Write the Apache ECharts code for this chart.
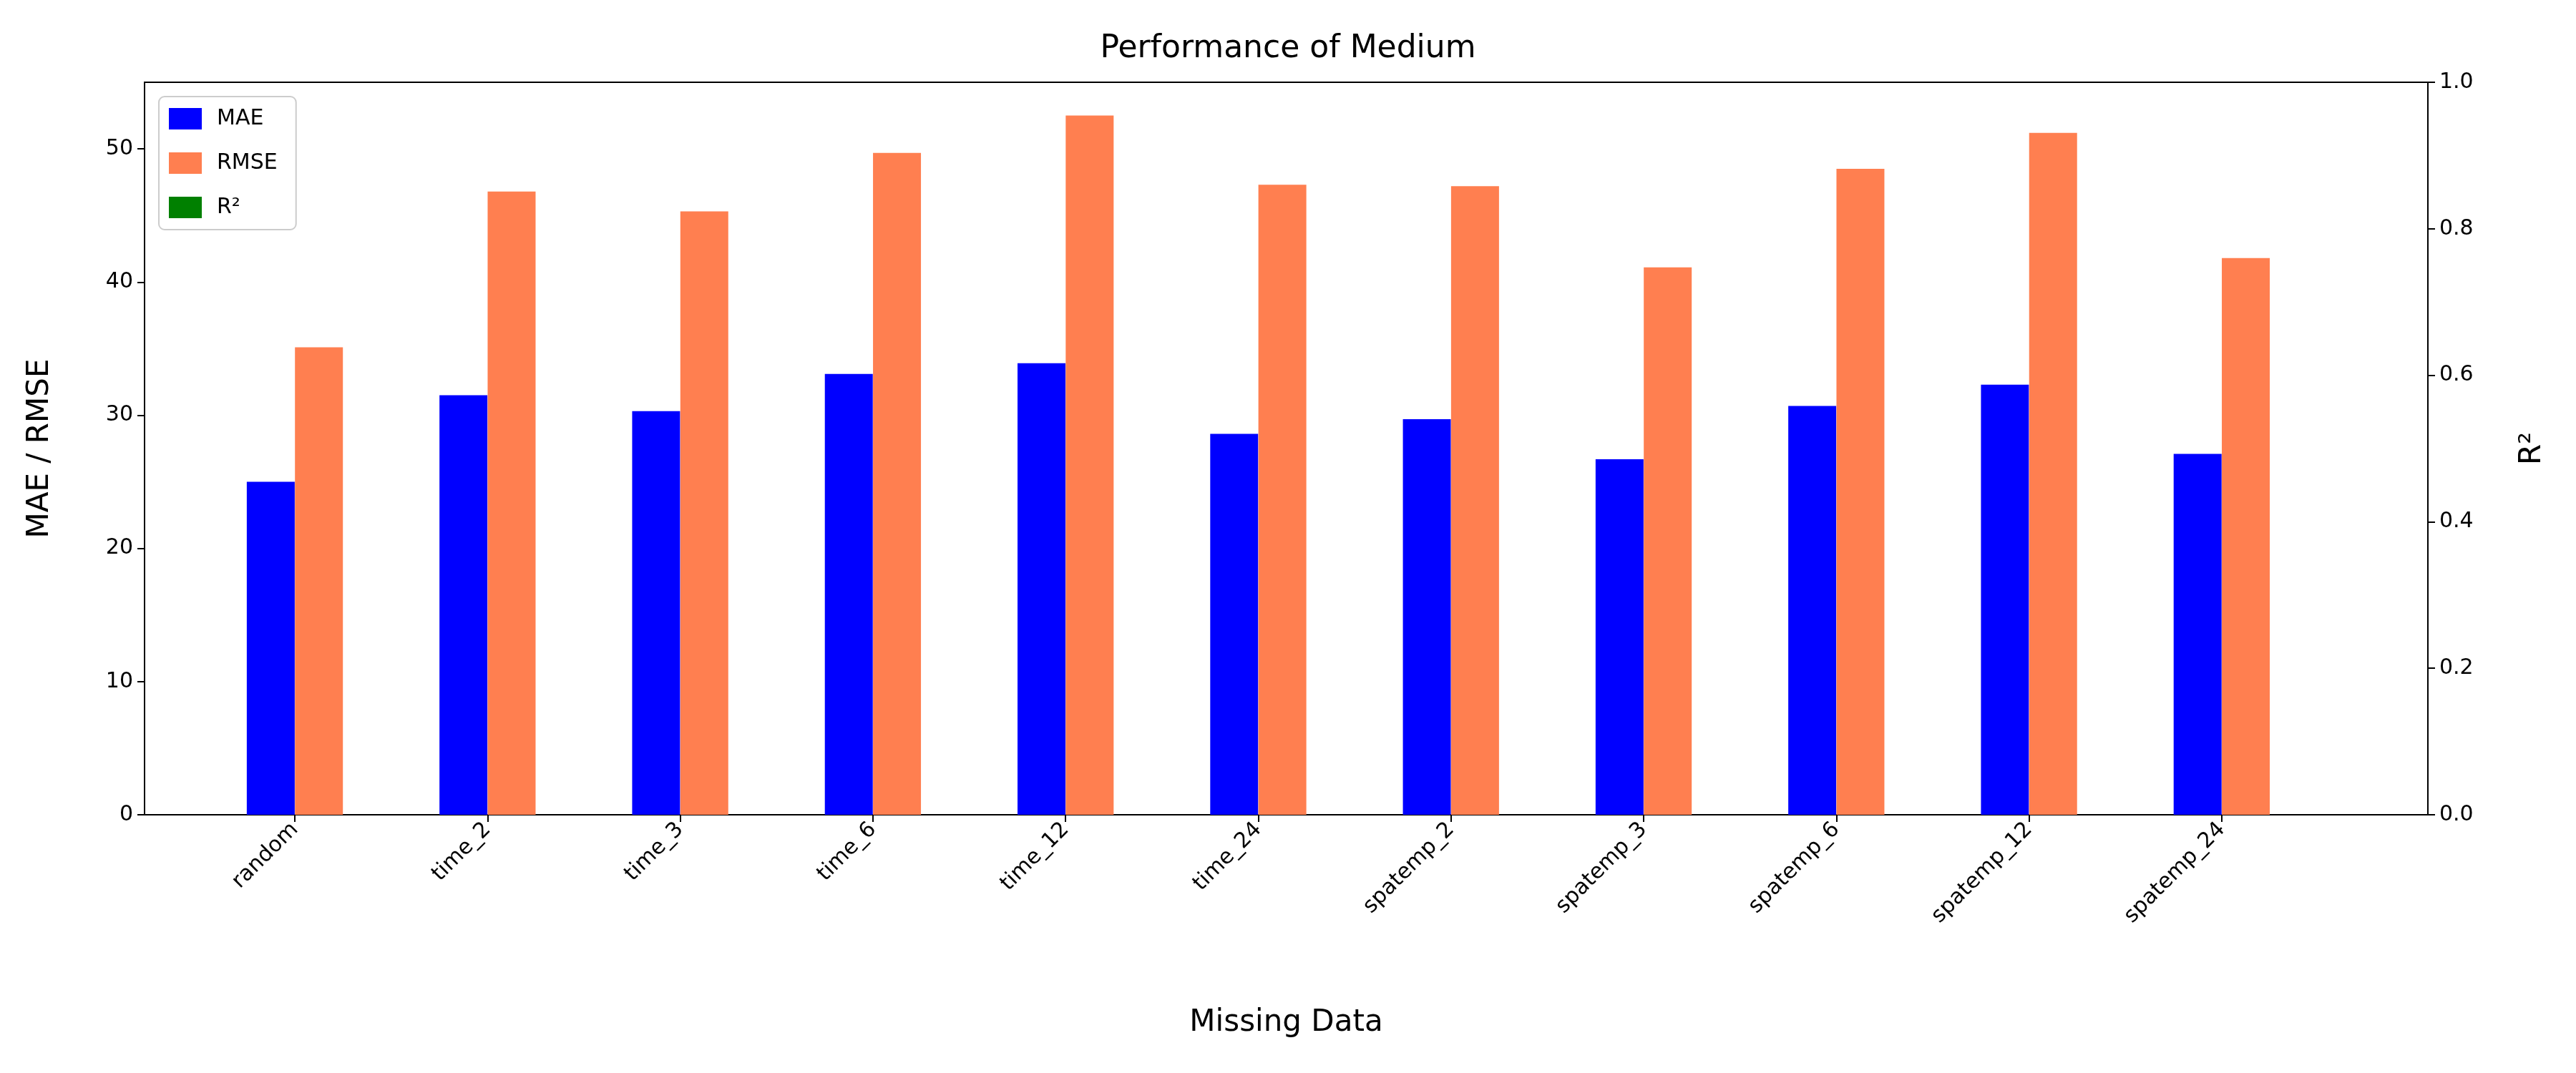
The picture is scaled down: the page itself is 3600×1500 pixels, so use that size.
<!DOCTYPE html>
<html><head><meta charset="utf-8">
<script src="https://cdn.jsdelivr.net/npm/echarts@6/dist/echarts.min.js"></script>
<style>html,body{margin:0;padding:0;background:#fff}#c{width:3600px;height:1500px}</style>
</head><body><div id="c"></div>
<script>
const categories = ['random','time_2','time_3','time_6','time_12','time_24','spatemp_2','spatemp_3','spatemp_6','spatemp_12','spatemp_24'];
const mae = [25.0,31.5,30.3,33.1,33.9,28.6,29.7,26.7,30.7,32.3,27.1];
const rmse = [35.1,46.8,45.3,49.7,52.5,47.3,47.2,41.1,48.5,51.2,41.8];
const r2 = [null,null,null,null,null,null,null,null,null,null,null];
const leftTicks = [0,10,20,30,40,50];
const rightTicks = [0,0.2,0.4,0.6,0.8,1.0];

const idx = categories.map((_, i) => i);
const F = 'DejaVu Sans';
const chart = echarts.init(document.getElementById('c'));
chart.setOption({
  animation:false,
  title:{text:'Performance of Medium',left:'center',top:42,textStyle:{fontFamily:F,fontSize:44,fontWeight:'normal',color:'#000'}},
  legend:{orient:'vertical',left:222,top:135,padding:[16,26,16,14],borderColor:'#ccc',borderWidth:2,borderRadius:8,
    itemWidth:46,itemHeight:30,itemGap:32,textStyle:{fontFamily:F,fontSize:30,color:'#000',padding:[0,0,0,16]},
    data:['MAE','RMSE','R²'],icon:'rect'},
  grid:{left:202,right:207,top:115,bottom:361,show:true,borderColor:'#000',borderWidth:2,backgroundColor:'transparent'},
  xAxis:{type:'value',min:-0.78,max:11.07,name:'Missing Data',nameLocation:'middle',nameGap:270,
    nameTextStyle:{fontFamily:F,fontSize:42,color:'#000'},
    axisLine:{show:true,onZero:false,lineStyle:{color:'#000',width:2}},
    axisTick:{show:true,customValues:idx,length:10,lineStyle:{color:'#000',width:2}},
    axisLabel:{customValues:idx,rotate:45,fontFamily:F,fontSize:30,color:'#000',margin:16,formatter:v=>categories[Math.round(v)]},
    splitLine:{show:false}},
  yAxis:[
    {type:'value',min:0,max:55,interval:10,name:'MAE / RMSE',nameLocation:'middle',nameGap:125,
     nameTextStyle:{fontFamily:F,fontSize:42,color:'#000'},
     axisLine:{show:true,onZero:false,lineStyle:{color:'#000',width:2}},
     axisTick:{show:true,customValues:leftTicks,length:10,lineStyle:{color:'#000',width:2}},
     axisLabel:{customValues:leftTicks,fontFamily:F,fontSize:30,color:'#000',margin:16},splitLine:{show:false}},
    {type:'value',min:0,max:1,interval:0.2,name:'R²',nameLocation:'middle',nameGap:125,nameRotate:90,
     nameTextStyle:{fontFamily:F,fontSize:42,color:'#000'},
     axisLine:{show:true,onZero:false,lineStyle:{color:'#000',width:2}},
     axisTick:{show:true,length:10,lineStyle:{color:'#000',width:2}},
     axisLabel:{fontFamily:F,fontSize:30,color:'#000',margin:16,formatter:v=>v.toFixed(1)},splitLine:{show:false}}
  ],
  series:[
    {name:'MAE',type:'bar',barWidth:67,barGap:'-100%',itemStyle:{color:'#0000ff'},data:mae.map((v,i)=>[i-0.125,v])},
    {name:'RMSE',type:'bar',barWidth:67,barGap:'-100%',itemStyle:{color:'#ff7f50'},data:rmse.map((v,i)=>[i+0.125,v])},
    {name:'R²',type:'bar',yAxisIndex:1,barWidth:67,barGap:'-100%',itemStyle:{color:'#008000'},data:r2.map((v,i)=>[i+0.375,v])}
  ]
});
</script></body></html>
